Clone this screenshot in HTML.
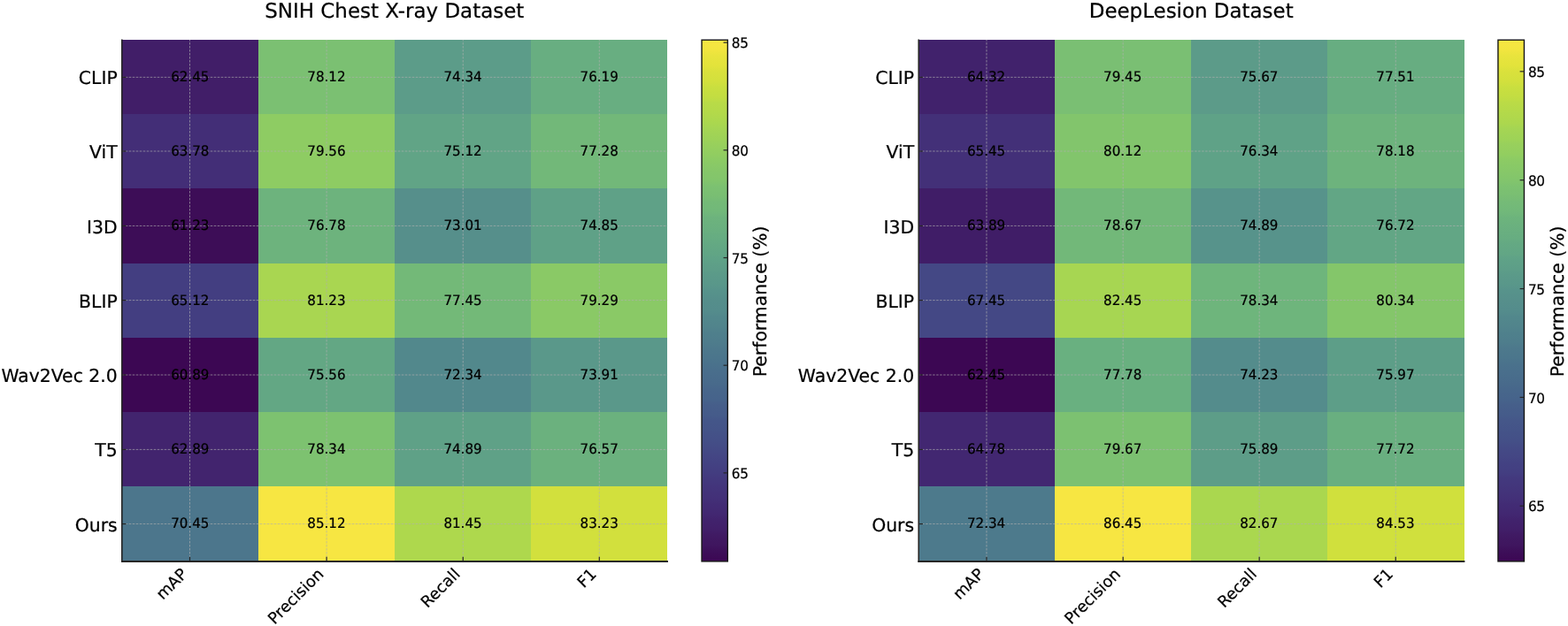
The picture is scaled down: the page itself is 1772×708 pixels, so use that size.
<!DOCTYPE html>
<html lang="en">
<head>
<meta charset="utf-8">
<title>Performance heatmaps</title>
<style>
html,body{margin:0;padding:0;background:#fff;}
body{width:1772px;height:708px;overflow:hidden;}
svg{display:block;}
svg text{font-family:"DejaVu Sans","Liberation Sans",sans-serif;fill:#000;stroke:#000;stroke-width:0.22px;text-rendering:geometricPrecision;}
</style>
</head>
<body>
<svg width="1772" height="708" viewBox="0 0 1772 708">
<rect width="1772" height="708" fill="#fff"/>
<g class="panel">
<g shape-rendering="crispEdges">
<rect x="137.7" y="44.95" width="154.62" height="84.73" fill="#411e68"/>
<rect x="291.82" y="44.95" width="154.62" height="84.73" fill="#7bc072"/>
<rect x="445.95" y="44.95" width="154.62" height="84.73" fill="#5c9c89"/>
<rect x="600.08" y="44.95" width="154.03" height="84.73" fill="#68ae81"/>
<rect x="137.7" y="129.18" width="154.62" height="84.73" fill="#432e77"/>
<rect x="291.82" y="129.18" width="154.62" height="84.73" fill="#8ecc63"/>
<rect x="445.95" y="129.18" width="154.62" height="84.73" fill="#61a486"/>
<rect x="600.08" y="129.18" width="154.03" height="84.73" fill="#72b879"/>
<rect x="137.7" y="213.41" width="154.62" height="84.73" fill="#3d0d57"/>
<rect x="291.82" y="213.41" width="154.62" height="84.73" fill="#6db37d"/>
<rect x="445.95" y="213.41" width="154.62" height="84.73" fill="#568f8b"/>
<rect x="600.08" y="213.41" width="154.03" height="84.73" fill="#5fa187"/>
<rect x="137.7" y="297.64" width="154.62" height="84.73" fill="#433e81"/>
<rect x="291.82" y="297.64" width="154.62" height="84.73" fill="#a9d651"/>
<rect x="445.95" y="297.64" width="154.62" height="84.73" fill="#73b978"/>
<rect x="600.08" y="297.64" width="154.03" height="84.73" fill="#8ac966"/>
<rect x="137.7" y="381.86" width="154.62" height="84.73" fill="#3c0753"/>
<rect x="291.82" y="381.86" width="154.62" height="84.73" fill="#63a784"/>
<rect x="445.95" y="381.86" width="154.62" height="84.73" fill="#52888c"/>
<rect x="600.08" y="381.86" width="154.03" height="84.73" fill="#5a988a"/>
<rect x="137.7" y="466.09" width="154.62" height="84.73" fill="#42246e"/>
<rect x="291.82" y="466.09" width="154.62" height="84.73" fill="#7dc270"/>
<rect x="445.95" y="466.09" width="154.62" height="84.73" fill="#5fa187"/>
<rect x="600.08" y="466.09" width="154.03" height="84.73" fill="#6bb17e"/>
<rect x="137.7" y="550.32" width="154.62" height="84.73" fill="#4c768c"/>
<rect x="291.82" y="550.32" width="154.62" height="84.73" fill="#f7e642"/>
<rect x="445.95" y="550.32" width="154.62" height="84.73" fill="#aed84d"/>
<rect x="600.08" y="550.32" width="154.03" height="84.73" fill="#d2e03d"/>
</g>
<g stroke="#b0b0b0" stroke-opacity="0.8" stroke-width="0.8" stroke-dasharray="2.6 1.4" fill="none">
<path d="M214.5 634.55V44.95"/>
<path d="M369.1 634.55V44.95"/>
<path d="M523.25 634.55V44.95"/>
<path d="M677.3 634.55V44.95"/>
<path d="M137.7 87.35H754.2"/>
<path d="M137.7 171H754.2"/>
<path d="M137.7 255.45H754.2"/>
<path d="M137.7 339.6H754.2"/>
<path d="M137.7 424H754.2"/>
<path d="M137.7 508.4H754.2"/>
<path d="M137.7 592.55H754.2"/>
</g>
<g stroke="#262626" stroke-width="1.2" fill="none">
<path d="M214.5 634.55v-4.8"/>
<path d="M369.1 634.55v-4.8"/>
<path d="M523.25 634.55v-4.8"/>
<path d="M677.3 634.55v-4.8"/>
<path d="M137.7 87.35h4.8"/>
<path d="M137.7 171h4.8"/>
<path d="M137.7 255.45h4.8"/>
<path d="M137.7 339.6h4.8"/>
<path d="M137.7 424h4.8"/>
<path d="M137.7 508.4h4.8"/>
<path d="M137.7 592.55h4.8"/>
</g>
<path d="M137.8 44.55V635.95" stroke="#262626" stroke-width="1.6" fill="none"/>
<path d="M137 635H755" stroke="#262626" stroke-width="1.9" fill="none"/>
<g font-size="15.1" text-anchor="middle">
<text transform="translate(214.76 92.05) scale(1 1.045)">62.45</text>
<text transform="translate(368.89 92.05) scale(1 1.045)">78.12</text>
<text transform="translate(523.01 92.05) scale(1 1.045)">74.34</text>
<text transform="translate(677.14 92.05) scale(1 1.045)">76.19</text>
<text transform="translate(214.76 176.23) scale(1 1.045)">63.78</text>
<text transform="translate(368.89 176.23) scale(1 1.045)">79.56</text>
<text transform="translate(523.01 176.23) scale(1 1.045)">75.12</text>
<text transform="translate(677.14 176.23) scale(1 1.045)">77.28</text>
<text transform="translate(214.76 260.41) scale(1 1.045)">61.23</text>
<text transform="translate(368.89 260.41) scale(1 1.045)">76.78</text>
<text transform="translate(523.01 260.41) scale(1 1.045)">73.01</text>
<text transform="translate(677.14 260.41) scale(1 1.045)">74.85</text>
<text transform="translate(214.76 344.59) scale(1 1.045)">65.12</text>
<text transform="translate(368.89 344.59) scale(1 1.045)">81.23</text>
<text transform="translate(523.01 344.59) scale(1 1.045)">77.45</text>
<text transform="translate(677.14 344.59) scale(1 1.045)">79.29</text>
<text transform="translate(214.76 428.77) scale(1 1.045)">60.89</text>
<text transform="translate(368.89 428.77) scale(1 1.045)">75.56</text>
<text transform="translate(523.01 428.77) scale(1 1.045)">72.34</text>
<text transform="translate(677.14 428.77) scale(1 1.045)">73.91</text>
<text transform="translate(214.76 512.95) scale(1 1.045)">62.89</text>
<text transform="translate(368.89 512.95) scale(1 1.045)">78.34</text>
<text transform="translate(523.01 512.95) scale(1 1.045)">74.89</text>
<text transform="translate(677.14 512.95) scale(1 1.045)">76.57</text>
<text transform="translate(214.76 597.13) scale(1 1.045)">70.45</text>
<text transform="translate(368.89 597.13) scale(1 1.045)">85.12</text>
<text transform="translate(523.01 597.13) scale(1 1.045)">81.45</text>
<text transform="translate(677.14 597.13) scale(1 1.045)">83.23</text>
</g>
<g font-size="20.36" text-anchor="end">
<text transform="translate(132.7 95.16) scale(1 1.0001)">CLIP</text>
<text transform="translate(132.7 179.39) scale(1 1.0001)">ViT</text>
<text transform="translate(132.7 263.62) scale(1 1.0001)">I3D</text>
<text transform="translate(132.7 347.85) scale(1 1.0001)">BLIP</text>
<text transform="translate(132.7 432.08) scale(1 1.0001)">Wav2Vec 2.0</text>
<text transform="translate(132.7 516.31) scale(1 1.0001)">T5</text>
<text transform="translate(132.7 600.54) scale(1 1.0001)">Ours</text>
</g>
<g font-size="17.95" text-anchor="end">
<text transform="translate(212.66 650.35) rotate(-45)">mAP</text>
<text transform="translate(366.79 650.35) rotate(-45)">Precision</text>
<text transform="translate(520.91 650.35) rotate(-45)">Recall</text>
<text transform="translate(675.04 650.35) rotate(-45)">F1</text>
</g>
<text x="445.8" y="19.8" font-size="22.95" text-anchor="middle">SNIH Chest X-ray Dataset</text>
<defs><linearGradient id="g1" x1="0" y1="0" x2="0" y2="1"><stop offset="0" stop-color="#f7e642"/><stop offset="0.02" stop-color="#f1e53f"/><stop offset="0.03" stop-color="#e9e43d"/><stop offset="0.05" stop-color="#e2e33b"/><stop offset="0.06" stop-color="#dae13c"/><stop offset="0.08" stop-color="#d2e03d"/><stop offset="0.09" stop-color="#cadf3f"/><stop offset="0.11" stop-color="#c2dd42"/><stop offset="0.12" stop-color="#b9db47"/><stop offset="0.14" stop-color="#b3d94a"/><stop offset="0.16" stop-color="#aad74f"/><stop offset="0.17" stop-color="#a5d553"/><stop offset="0.19" stop-color="#9dd258"/><stop offset="0.2" stop-color="#98d05c"/><stop offset="0.22" stop-color="#91cd61"/><stop offset="0.23" stop-color="#8ccb64"/><stop offset="0.25" stop-color="#86c769"/><stop offset="0.27" stop-color="#82c56c"/><stop offset="0.28" stop-color="#7cc171"/><stop offset="0.3" stop-color="#79be73"/><stop offset="0.31" stop-color="#74ba77"/><stop offset="0.33" stop-color="#71b87a"/><stop offset="0.34" stop-color="#6db37d"/><stop offset="0.36" stop-color="#6ab07f"/><stop offset="0.38" stop-color="#66ac82"/><stop offset="0.39" stop-color="#64a983"/><stop offset="0.41" stop-color="#61a585"/><stop offset="0.42" stop-color="#5fa287"/><stop offset="0.44" stop-color="#5d9d88"/><stop offset="0.45" stop-color="#5b9a89"/><stop offset="0.47" stop-color="#59978a"/><stop offset="0.48" stop-color="#57938b"/><stop offset="0.5" stop-color="#558e8b"/><stop offset="0.52" stop-color="#548c8c"/><stop offset="0.53" stop-color="#52888c"/><stop offset="0.55" stop-color="#51848c"/><stop offset="0.56" stop-color="#4f808c"/><stop offset="0.58" stop-color="#4e7c8c"/><stop offset="0.59" stop-color="#4d798c"/><stop offset="0.61" stop-color="#4b758c"/><stop offset="0.62" stop-color="#4a728c"/><stop offset="0.64" stop-color="#496d8c"/><stop offset="0.66" stop-color="#486a8b"/><stop offset="0.67" stop-color="#47668b"/><stop offset="0.69" stop-color="#46638b"/><stop offset="0.7" stop-color="#465e8a"/><stop offset="0.72" stop-color="#455b8a"/><stop offset="0.73" stop-color="#445689"/><stop offset="0.75" stop-color="#445388"/><stop offset="0.77" stop-color="#444e87"/><stop offset="0.78" stop-color="#444b86"/><stop offset="0.8" stop-color="#444584"/><stop offset="0.81" stop-color="#434283"/><stop offset="0.83" stop-color="#433d80"/><stop offset="0.84" stop-color="#43397e"/><stop offset="0.86" stop-color="#43347b"/><stop offset="0.88" stop-color="#433078"/><stop offset="0.89" stop-color="#422c75"/><stop offset="0.91" stop-color="#422771"/><stop offset="0.92" stop-color="#41236d"/><stop offset="0.94" stop-color="#411e68"/><stop offset="0.95" stop-color="#401a63"/><stop offset="0.97" stop-color="#3f155e"/><stop offset="0.98" stop-color="#3d0f59"/><stop offset="1" stop-color="#3c0753"/></linearGradient></defs>
<rect x="793.05" y="45.2" width="29.3" height="589.7" fill="url(#g1)" stroke="#161616" stroke-width="1.4"/>
<g stroke="#262626" stroke-width="1.2" fill="none">
<path d="M822.35 534.87h-4.8"/>
<path d="M822.35 413.18h-4.8"/>
<path d="M822.35 291.5h-4.8"/>
<path d="M822.35 169.81h-4.8"/>
<path d="M822.35 48.12h-4.8"/>
</g>
<g font-size="15.25" letter-spacing="-0.35">
<text transform="translate(826.8 541.07) scale(1 1.045)">65</text>
<text transform="translate(826.8 419.38) scale(1 1.045)">70</text>
<text transform="translate(826.8 297.7) scale(1 1.045)">75</text>
<text transform="translate(826.8 176.01) scale(1 1.045)">80</text>
<text transform="translate(826.8 54.32) scale(1 1.045)">85</text>
</g>
<text transform="translate(866.35 340.85) rotate(-90)" font-size="20.36" text-anchor="middle">Performance (%)</text>
</g>
<g class="panel">
<g shape-rendering="crispEdges">
<rect x="1038.1" y="44.95" width="154.62" height="84.73" fill="#41226c"/>
<rect x="1192.22" y="44.95" width="154.62" height="84.73" fill="#7abf73"/>
<rect x="1346.35" y="44.95" width="154.62" height="84.73" fill="#5c9b89"/>
<rect x="1500.47" y="44.95" width="154.03" height="84.73" fill="#67ad81"/>
<rect x="1038.1" y="129.18" width="154.62" height="84.73" fill="#433078"/>
<rect x="1192.22" y="129.18" width="154.62" height="84.73" fill="#82c56c"/>
<rect x="1346.35" y="129.18" width="154.62" height="84.73" fill="#5fa287"/>
<rect x="1500.47" y="129.18" width="154.03" height="84.73" fill="#6db37d"/>
<rect x="1038.1" y="213.41" width="154.62" height="84.73" fill="#401d67"/>
<rect x="1192.22" y="213.41" width="154.62" height="84.73" fill="#72b879"/>
<rect x="1346.35" y="213.41" width="154.62" height="84.73" fill="#57938b"/>
<rect x="1500.47" y="213.41" width="154.03" height="84.73" fill="#62a685"/>
<rect x="1038.1" y="297.64" width="154.62" height="84.73" fill="#444885"/>
<rect x="1192.22" y="297.64" width="154.62" height="84.73" fill="#a7d652"/>
<rect x="1346.35" y="297.64" width="154.62" height="84.73" fill="#6eb57c"/>
<rect x="1500.47" y="297.64" width="154.03" height="84.73" fill="#84c66a"/>
<rect x="1038.1" y="381.86" width="154.62" height="84.73" fill="#3c0753"/>
<rect x="1192.22" y="381.86" width="154.62" height="84.73" fill="#69b080"/>
<rect x="1346.35" y="381.86" width="154.62" height="84.73" fill="#548c8c"/>
<rect x="1500.47" y="381.86" width="154.03" height="84.73" fill="#5d9e88"/>
<rect x="1038.1" y="466.09" width="154.62" height="84.73" fill="#422771"/>
<rect x="1192.22" y="466.09" width="154.62" height="84.73" fill="#7cc171"/>
<rect x="1346.35" y="466.09" width="154.62" height="84.73" fill="#5d9d88"/>
<rect x="1500.47" y="466.09" width="154.03" height="84.73" fill="#69af80"/>
<rect x="1038.1" y="550.32" width="154.62" height="84.73" fill="#4d7a8c"/>
<rect x="1192.22" y="550.32" width="154.62" height="84.73" fill="#f7e642"/>
<rect x="1346.35" y="550.32" width="154.62" height="84.73" fill="#aad74f"/>
<rect x="1500.47" y="550.32" width="154.03" height="84.73" fill="#d0e03d"/>
</g>
<g stroke="#b0b0b0" stroke-opacity="0.8" stroke-width="0.8" stroke-dasharray="2.6 1.4" fill="none">
<path d="M1114.95 634.55V44.95"/>
<path d="M1269.15 634.55V44.95"/>
<path d="M1423.15 634.55V44.95"/>
<path d="M1577.25 634.55V44.95"/>
<path d="M1038.1 87.35H1654.6"/>
<path d="M1038.1 171H1654.6"/>
<path d="M1038.1 255.45H1654.6"/>
<path d="M1038.1 339.6H1654.6"/>
<path d="M1038.1 424H1654.6"/>
<path d="M1038.1 508.4H1654.6"/>
<path d="M1038.1 592.55H1654.6"/>
</g>
<g stroke="#262626" stroke-width="1.2" fill="none">
<path d="M1114.95 634.55v-4.8"/>
<path d="M1269.15 634.55v-4.8"/>
<path d="M1423.15 634.55v-4.8"/>
<path d="M1577.25 634.55v-4.8"/>
<path d="M1038.1 87.35h4.8"/>
<path d="M1038.1 171h4.8"/>
<path d="M1038.1 255.45h4.8"/>
<path d="M1038.1 339.6h4.8"/>
<path d="M1038.1 424h4.8"/>
<path d="M1038.1 508.4h4.8"/>
<path d="M1038.1 592.55h4.8"/>
</g>
<path d="M1038.2 44.55V635.95" stroke="#262626" stroke-width="1.6" fill="none"/>
<path d="M1037.4 635H1655.4" stroke="#262626" stroke-width="1.9" fill="none"/>
<g font-size="15.1" text-anchor="middle">
<text transform="translate(1114.56 92.05) scale(1 1.045)">64.32</text>
<text transform="translate(1268.69 92.05) scale(1 1.045)">79.45</text>
<text transform="translate(1422.81 92.05) scale(1 1.045)">75.67</text>
<text transform="translate(1576.94 92.05) scale(1 1.045)">77.51</text>
<text transform="translate(1114.56 176.23) scale(1 1.045)">65.45</text>
<text transform="translate(1268.69 176.23) scale(1 1.045)">80.12</text>
<text transform="translate(1422.81 176.23) scale(1 1.045)">76.34</text>
<text transform="translate(1576.94 176.23) scale(1 1.045)">78.18</text>
<text transform="translate(1114.56 260.41) scale(1 1.045)">63.89</text>
<text transform="translate(1268.69 260.41) scale(1 1.045)">78.67</text>
<text transform="translate(1422.81 260.41) scale(1 1.045)">74.89</text>
<text transform="translate(1576.94 260.41) scale(1 1.045)">76.72</text>
<text transform="translate(1114.56 344.59) scale(1 1.045)">67.45</text>
<text transform="translate(1268.69 344.59) scale(1 1.045)">82.45</text>
<text transform="translate(1422.81 344.59) scale(1 1.045)">78.34</text>
<text transform="translate(1576.94 344.59) scale(1 1.045)">80.34</text>
<text transform="translate(1114.56 428.77) scale(1 1.045)">62.45</text>
<text transform="translate(1268.69 428.77) scale(1 1.045)">77.78</text>
<text transform="translate(1422.81 428.77) scale(1 1.045)">74.23</text>
<text transform="translate(1576.94 428.77) scale(1 1.045)">75.97</text>
<text transform="translate(1114.56 512.95) scale(1 1.045)">64.78</text>
<text transform="translate(1268.69 512.95) scale(1 1.045)">79.67</text>
<text transform="translate(1422.81 512.95) scale(1 1.045)">75.89</text>
<text transform="translate(1576.94 512.95) scale(1 1.045)">77.72</text>
<text transform="translate(1114.56 597.13) scale(1 1.045)">72.34</text>
<text transform="translate(1268.69 597.13) scale(1 1.045)">86.45</text>
<text transform="translate(1422.81 597.13) scale(1 1.045)">82.67</text>
<text transform="translate(1576.94 597.13) scale(1 1.045)">84.53</text>
</g>
<g font-size="20.36" text-anchor="end">
<text transform="translate(1033.1 95.16) scale(1 1.0001)">CLIP</text>
<text transform="translate(1033.1 179.39) scale(1 1.0001)">ViT</text>
<text transform="translate(1033.1 263.62) scale(1 1.0001)">I3D</text>
<text transform="translate(1033.1 347.85) scale(1 1.0001)">BLIP</text>
<text transform="translate(1033.1 432.08) scale(1 1.0001)">Wav2Vec 2.0</text>
<text transform="translate(1033.1 516.31) scale(1 1.0001)">T5</text>
<text transform="translate(1033.1 600.54) scale(1 1.0001)">Ours</text>
</g>
<g font-size="17.95" text-anchor="end">
<text transform="translate(1113.06 650.35) rotate(-45)">mAP</text>
<text transform="translate(1267.19 650.35) rotate(-45)">Precision</text>
<text transform="translate(1421.31 650.35) rotate(-45)">Recall</text>
<text transform="translate(1575.44 650.35) rotate(-45)">F1</text>
</g>
<text x="1346.2" y="19.8" font-size="22.95" text-anchor="middle">DeepLesion Dataset</text>
<defs><linearGradient id="g2" x1="0" y1="0" x2="0" y2="1"><stop offset="0" stop-color="#f7e642"/><stop offset="0.02" stop-color="#f1e53f"/><stop offset="0.03" stop-color="#e9e43d"/><stop offset="0.05" stop-color="#e2e33b"/><stop offset="0.06" stop-color="#dae13c"/><stop offset="0.08" stop-color="#d2e03d"/><stop offset="0.09" stop-color="#cadf3f"/><stop offset="0.11" stop-color="#c2dd42"/><stop offset="0.12" stop-color="#bbdb46"/><stop offset="0.14" stop-color="#b3d94a"/><stop offset="0.16" stop-color="#acd74e"/><stop offset="0.17" stop-color="#a5d553"/><stop offset="0.19" stop-color="#9ed357"/><stop offset="0.2" stop-color="#98d05c"/><stop offset="0.22" stop-color="#92ce60"/><stop offset="0.23" stop-color="#8ccb64"/><stop offset="0.25" stop-color="#87c868"/><stop offset="0.27" stop-color="#82c56c"/><stop offset="0.28" stop-color="#7dc270"/><stop offset="0.3" stop-color="#79be73"/><stop offset="0.31" stop-color="#75bb77"/><stop offset="0.33" stop-color="#71b87a"/><stop offset="0.34" stop-color="#6db47c"/><stop offset="0.36" stop-color="#6ab07f"/><stop offset="0.38" stop-color="#67ad81"/><stop offset="0.39" stop-color="#64a983"/><stop offset="0.41" stop-color="#62a685"/><stop offset="0.42" stop-color="#5fa287"/><stop offset="0.44" stop-color="#5d9e88"/><stop offset="0.45" stop-color="#5b9a89"/><stop offset="0.47" stop-color="#59978a"/><stop offset="0.48" stop-color="#57938b"/><stop offset="0.5" stop-color="#568f8b"/><stop offset="0.52" stop-color="#548c8c"/><stop offset="0.53" stop-color="#52888c"/><stop offset="0.55" stop-color="#51848c"/><stop offset="0.56" stop-color="#4f818c"/><stop offset="0.58" stop-color="#4e7d8c"/><stop offset="0.59" stop-color="#4d798c"/><stop offset="0.61" stop-color="#4b768c"/><stop offset="0.62" stop-color="#4a728c"/><stop offset="0.64" stop-color="#496e8c"/><stop offset="0.66" stop-color="#486a8b"/><stop offset="0.67" stop-color="#47678b"/><stop offset="0.69" stop-color="#46638b"/><stop offset="0.7" stop-color="#465f8a"/><stop offset="0.72" stop-color="#455b8a"/><stop offset="0.73" stop-color="#455789"/><stop offset="0.75" stop-color="#445388"/><stop offset="0.77" stop-color="#444f87"/><stop offset="0.78" stop-color="#444b86"/><stop offset="0.8" stop-color="#444684"/><stop offset="0.81" stop-color="#434283"/><stop offset="0.83" stop-color="#433e81"/><stop offset="0.84" stop-color="#43397e"/><stop offset="0.86" stop-color="#43357b"/><stop offset="0.88" stop-color="#433078"/><stop offset="0.89" stop-color="#422c75"/><stop offset="0.91" stop-color="#422771"/><stop offset="0.92" stop-color="#41236d"/><stop offset="0.94" stop-color="#411e68"/><stop offset="0.95" stop-color="#401a63"/><stop offset="0.97" stop-color="#3f155e"/><stop offset="0.98" stop-color="#3d0f59"/><stop offset="1" stop-color="#3c0753"/></linearGradient></defs>
<rect x="1692.95" y="45.2" width="29.5" height="589.7" fill="url(#g2)" stroke="#161616" stroke-width="1.4"/>
<g stroke="#262626" stroke-width="1.2" fill="none">
<path d="M1722.45 572.24h-4.8"/>
<path d="M1722.45 449.39h-4.8"/>
<path d="M1722.45 326.54h-4.8"/>
<path d="M1722.45 203.68h-4.8"/>
<path d="M1722.45 80.83h-4.8"/>
</g>
<g font-size="15.25" letter-spacing="-0.35">
<text transform="translate(1726.9 578.44) scale(1 1.045)">65</text>
<text transform="translate(1726.9 455.59) scale(1 1.045)">70</text>
<text transform="translate(1726.9 332.74) scale(1 1.045)">75</text>
<text transform="translate(1726.9 209.88) scale(1 1.045)">80</text>
<text transform="translate(1726.9 87.03) scale(1 1.045)">85</text>
</g>
<text transform="translate(1766.75 340.85) rotate(-90)" font-size="20.36" text-anchor="middle">Performance (%)</text>
</g>
</svg>
</body>
</html>
